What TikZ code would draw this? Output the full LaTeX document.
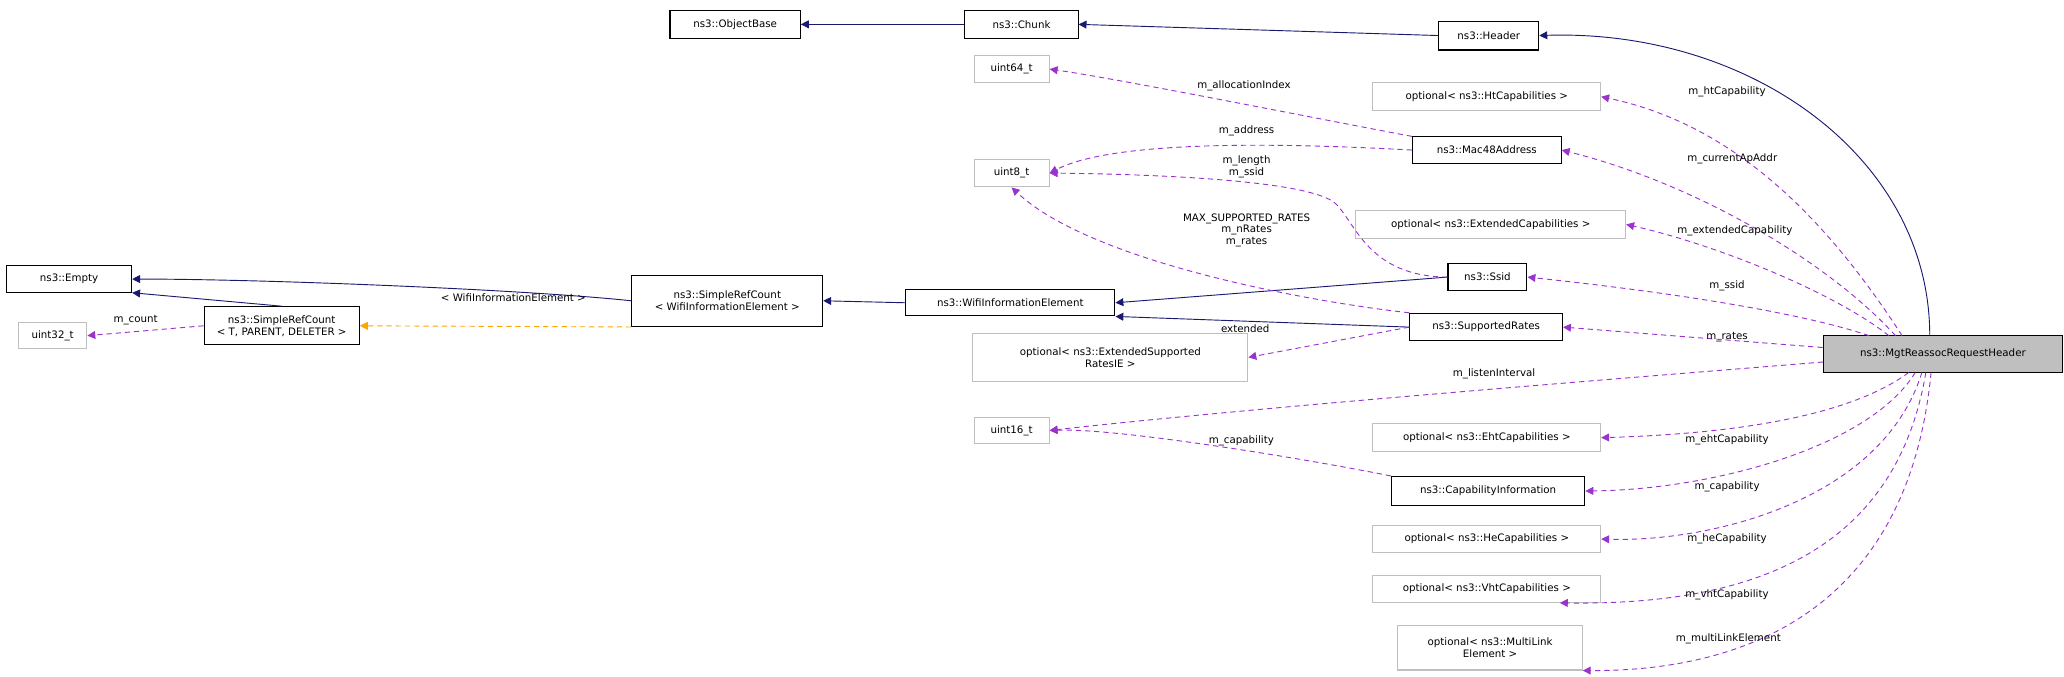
\documentclass[tikz,border=0pt]{standalone}
\usepackage{fontspec}
\setmainfont{DejaVu Sans}
\usetikzlibrary{arrows.meta}
\definecolor{navy}{HTML}{191970}
\definecolor{pur}{HTML}{9A32CD}
\definecolor{org}{HTML}{FFA500}
\definecolor{gb}{HTML}{BFBFBF}
\begin{document}
\begin{tikzpicture}[x=1pt,y=-1pt,
  box/.style={draw=black,line width=0.8pt,inner sep=1pt,font=\fontsize{7.8}{9}\selectfont,align=center},
  gbox/.style={box,draw=gb},
  inh/.style={navy,line width=0.7pt,-{Triangle[length=6pt,width=6pt]}},
  use/.style={pur,dashed,line width=0.7pt,dash pattern=on 4pt off 3pt,-{Triangle[length=6pt,width=6pt]}},
  tmpl/.style={org,dashed,line width=0.7pt,dash pattern=on 4pt off 3pt,-{Triangle[length=6pt,width=6pt]}},
  lab/.style={text=black,font=\fontsize{7.8}{9}\selectfont,align=center,inner sep=0pt}]
\useasboundingbox (0,0) rectangle (1568,514);
\newcommand{\bx}[7]{\node[#7,minimum width={#4-#2},minimum height={#5-#3}] (#1) at ({(#2+#4)/2},{(#3+#5)/2}) {#6};}
\bx{ob}{509}{8}{608}{29}{ns3::ObjectBase}{box}
\bx{chunk}{733}{8}{819}{29}{ns3::Chunk}{box}
\bx{header}{1093}{16}{1169}{38}{ns3::Header}{box}
\bx{u64}{740}{42}{797}{63}{uint64\_t}{gbox}
\bx{oht}{1043}{63}{1216}{84}{optional< ns3::HtCapabilities >}{gbox}
\bx{mac}{1073}{104}{1186}{124}{ns3::Mac48Address}{box}
\bx{u8}{740}{121}{797}{142}{uint8\_t}{gbox}
\bx{oext}{1030}{160}{1235}{181}{optional< ns3::ExtendedCapabilities >}{gbox}
\bx{ssid}{1100}{200}{1160}{221}{ns3::Ssid}{box}
\bx{sr}{1071}{238}{1187}{259}{ns3::SupportedRates}{box}
\bx{mgt}{1385}{255}{1567}{283}{ns3::MgtReassocRequestHeader}{box,fill=gb}
\bx{empty}{5}{202}{100}{222}{ns3::Empty}{box}
\bx{srct}{155}{233}{273}{262}{ns3::SimpleRefCount\\< T, PARENT, DELETER >}{box}
\bx{u32}{14}{245}{66}{265}{uint32\_t}{gbox}
\bx{srcw}{480}{209}{625}{248}{ns3::SimpleRefCount\\< WifiInformationElement >}{box}
\bx{wie}{688}{220}{847}{240}{ns3::WifiInformationElement}{box}
\bx{oes}{739}{253}{948}{290}{optional< ns3::ExtendedSupported\\RatesIE >}{gbox}
\bx{u16}{740}{317}{797}{337}{uint16\_t}{gbox}
\bx{oeht}{1043}{322}{1216}{343}{optional< ns3::EhtCapabilities >}{gbox}
\bx{cap}{1057}{362}{1204}{384}{ns3::CapabilityInformation}{box}
\bx{ohe}{1043}{399}{1216}{420}{optional< ns3::HeCapabilities >}{gbox}
\bx{ovht}{1043}{437}{1216}{458}{optional< ns3::VhtCapabilities >}{gbox}
\bx{oml}{1062}{475}{1202}{509}{optional< ns3::MultiLink\\Element >}{gbox}
% inheritance
\draw[inh] (chunk) -- (ob);
\draw[inh] (header.west) -- (chunk.east);
\draw[inh] (1466,255) .. controls (1466,120) and (1330,22) .. (header.east);
\draw[inh] (ssid.west) -- (wie.east);
\draw[inh] (sr.west) -- (wie.south east);
\draw[inh] (wie.west) -- (srcw.east);
\draw[inh] (srcw.west) .. controls (400,220) and (200,212) .. (empty.east);
\draw[inh] (srct.north) -- (empty.south east);
\draw[tmpl] (srcw.south west) -- (srct.east);
\node[lab] at (390,226) {< WifiInformationElement >};
\draw[use] (srct.west) -- (u32.east);
\node[lab] at (103,243) {m\_count};
% uses
\draw[use] (mac.north west) .. controls (1000,90) and (850,60) .. (u64.east);
\node[lab] at (945,65) {m\_allocationIndex};
\draw[use] (mac.west) .. controls (1000,110) and (850,104) .. (u8.east);
\node[lab] at (947,99) {m\_address};
\draw[use] (ssid.west) .. controls (1040,210) and (1030,170) .. (1015,155) .. controls (995,135) and (850,132) .. (u8.east);
\node[lab] at (947,127) {m\_length\\m\_ssid};
\draw[use] (sr.north west) .. controls (1000,230) and (830,200) .. (u8.south);
\node[lab] at (947,175) {MAX\_SUPPORTED\_RATES\\m\_nRates\\m\_rates};
\draw[use] (sr.west) -- (oes.east);
\node[lab] at (946,250) {extended};
\draw[use] (1445,255) .. controls (1390,170) and (1320,95) .. (oht.east);
\node[lab] at (1312,70) {m\_htCapability};
\draw[use] (1440,255) .. controls (1390,200) and (1290,140) .. (mac.east);
\node[lab] at (1316,121) {m\_currentApAddr};
\draw[use] (1435,255) .. controls (1390,220) and (1300,185) .. (oext.east);
\node[lab] at (1318,175) {m\_extendedCapability};
\draw[use] (1420,255) .. controls (1360,235) and (1250,220) .. (ssid.east);
\node[lab] at (1312,217) {m\_ssid};
\draw[use] (mgt.west) ++(0,-5) -- (sr.east);
\node[lab] at (1312,256) {m\_rates};
\draw[use] (1385,275) .. controls (1200,290) and (950,310) .. (u16.east);
\node[lab] at (1135,284) {m\_listenInterval};
\draw[use] (1450,283) .. controls (1400,320) and (1300,330) .. (oeht.east);
\node[lab] at (1312,334) {m\_ehtCapability};
\draw[use] (cap.north west) .. controls (1000,350) and (850,325) .. (u16.east);
\node[lab] at (943,335) {m\_capability};
\draw[use] (1455,283) .. controls (1420,340) and (1300,372) .. (cap.east);
\node[lab] at (1312,370) {m\_capability};
\draw[use] (1460,283) .. controls (1430,380) and (1300,412) .. (ohe.east);
\node[lab] at (1312,409) {m\_heCapability};
\draw[use] (1463,283) .. controls (1440,420) and (1330,460) .. (1185,458);
\node[lab] at (1312,452) {m\_vhtCapability};
\draw[use] (1467,283) .. controls (1450,460) and (1330,510) .. (oml.south east);
\node[lab] at (1313,485) {m\_multiLinkElement};
\end{tikzpicture}
\end{document}
